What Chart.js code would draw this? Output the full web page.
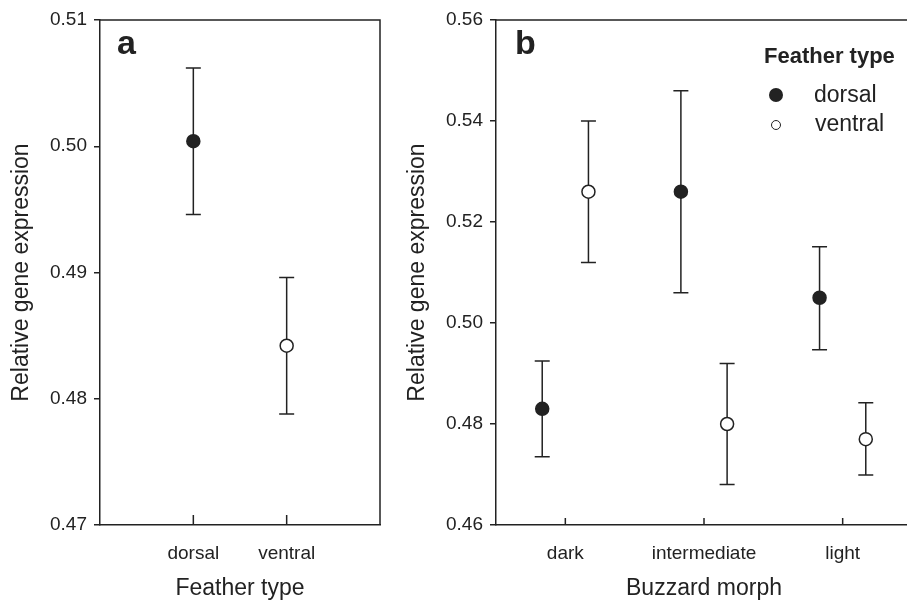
<!DOCTYPE html>
<html>
<head>
<meta charset="utf-8">
<script src="https://cdn.jsdelivr.net/npm/chart.js@4"></script>
<style>
body{margin:0;width:907px;height:600px;overflow:hidden;background:#fff;position:relative;font-family:"Liberation Sans",Arial,sans-serif;color:#222;}
#wrapA{position:absolute;left:0;top:0;}
#wrapB{position:absolute;left:400px;top:0;}
.txt{position:absolute;white-space:nowrap;}
.panel{font-size:34px;line-height:34px;font-weight:bold;}
.dot{position:absolute;border-radius:50%;box-sizing:border-box;}
</style>
</head>
<body>
<div id="wrapA"><canvas id="chartA" width="400" height="600"></canvas></div>
<div id="wrapB"><canvas id="chartB" width="520" height="600"></canvas></div>

<div class="txt panel" style="left:117px;top:25px;">a</div>
<div class="txt panel" style="left:515px;top:25px;">b</div>

<div class="txt" style="left:764px;top:45px;font-size:22px;line-height:22px;font-weight:bold;">Feather type</div>
<div class="dot" style="left:769px;top:88px;width:14px;height:14px;background:#222;"></div>
<div class="txt" style="left:814px;top:83px;font-size:23px;line-height:23px;">dorsal</div>
<div class="dot" style="left:771px;top:120px;width:10px;height:10px;background:#fff;border:1.5px solid #222;"></div>
<div class="txt" style="left:815px;top:112px;font-size:23px;line-height:23px;">ventral</div>

<script>
// panel a: by feather type
const typeLabels = ["dorsal", "ventral"];
const typeMeans = [0.5004, 0.4842];
const typeLower = [0.4946, 0.4788];
const typeUpper = [0.5062, 0.4896];

// panel b: by buzzard morph
const morphLabels = ["dark", "intermediate", "light"];
const dorsalMeans = [0.4830, 0.5260, 0.5050];
const dorsalLower = [0.4735, 0.5060, 0.4947];
const dorsalUpper = [0.4925, 0.5460, 0.5151];
const ventralMeans = [0.5260, 0.4800, 0.4770];
const ventralLower = [0.5120, 0.4680, 0.4699];
const ventralUpper = [0.5400, 0.4920, 0.4842];

const ink = "#222";
const font = "'Liberation Sans', Arial, sans-serif";

// vertical error bars behind the points
const errorBars = {
    id: "errorBars",
    beforeDatasetsDraw(chart){
        const ctx = chart.ctx;
        const y = chart.scales.y;
        ctx.save();
        ctx.strokeStyle = ink;
        ctx.lineWidth = 1.5;
        chart.data.datasets.forEach((ds, d) => {
            chart.getDatasetMeta(d).data.forEach((pt, i) => {
                const top = y.getPixelForValue(ds.upper[i]);
                const bot = y.getPixelForValue(ds.lower[i]);
                ctx.beginPath();
                ctx.moveTo(pt.x, top); ctx.lineTo(pt.x, bot);
                ctx.moveTo(pt.x - 7.5, top); ctx.lineTo(pt.x + 7.5, top);
                ctx.moveTo(pt.x - 7.5, bot); ctx.lineTo(pt.x + 7.5, bot);
                ctx.stroke();
            });
        });
        ctx.restore();
    }
};

// top/right frame lines and inward x ticks
const frame = {
    id: "frame",
    afterDraw(chart, args, opts){
        const ctx = chart.ctx;
        const a = chart.chartArea;
        const x = chart.scales.x;
        ctx.save();
        ctx.strokeStyle = ink;
        ctx.lineWidth = 1.5;
        ctx.beginPath();
        ctx.moveTo(a.left, a.top); ctx.lineTo(a.right, a.top); ctx.lineTo(a.right, a.bottom);
        for(const t of x.ticks){
            const px = x.getPixelForValue(t.value);
            ctx.moveTo(px, a.bottom); ctx.lineTo(px, a.bottom - opts.tick);
        }
        ctx.stroke();
        ctx.restore();
    }
};

function points(means, shift){
    return means.map((v, i) => ({x: i + 1 + shift, y: v}));
}

function makeOptions(labels, xMin, xMax, yMin, yMax, step, yWidth, titleX, titleY, titlePad, padRight, tick){
    return {
        responsive: false,
        animation: false,
        layout: {padding: {top: 20, right: padRight, left: 0, bottom: 0}},
        plugins: {legend: {display: false}, tooltip: {enabled: false}, frame: {tick: tick}},
        scales: {
            x: {
                type: "linear", min: xMin, max: xMax,
                afterBuildTicks: s => { s.ticks = labels.map((l, i) => ({value: i + 1})); },
                afterFit: s => { s.height = 75; },
                ticks: {callback: v => labels[v - 1], padding: 9, color: ink, font: {family: font, size: 19}, maxRotation: 0},
                grid: {display: false},
                border: {display: true, color: ink, width: 1.5},
                title: {display: true, text: titleX, color: ink, font: {family: font, size: 23, lineHeight: 1}, padding: {top: 0, bottom: 0}}
            },
            y: {
                min: yMin, max: yMax,
                afterFit: s => { s.width = yWidth; },
                ticks: {stepSize: step, callback: v => v.toFixed(2), padding: 7, color: ink, font: {family: font, size: 19}},
                grid: {drawOnChartArea: false, drawTicks: true, tickLength: 6, color: ink, lineWidth: 1.5},
                border: {display: true, color: ink, width: 1.5},
                title: {display: true, text: titleY, color: ink, font: {family: font, size: 23, lineHeight: 1}, padding: {top: titlePad, bottom: 0}}
            }
        }
    };
}

new Chart(document.getElementById("chartA").getContext("2d"), {
    type: "scatter",
    data: {
        datasets: [{
            label: "Feather type",
            data: points(typeMeans, 0),
            lower: typeLower,
            upper: typeUpper,
            pointRadius: 6.5,
            pointBorderWidth: 1.5,
            pointBorderColor: ink,
            pointBackgroundColor: [ink, "#fff"]
        }]
    },
    options: makeOptions(typeLabels, 0, 3, 0.47, 0.51, 0.01, 100, "Feather type", "Relative gene expression", 10.5, 20, 10),
    plugins: [errorBars, frame]
});

const shift = 1 / 6;
new Chart(document.getElementById("chartB").getContext("2d"), {
    type: "scatter",
    data: {
        datasets: [{
            label: "dorsal",
            data: points(dorsalMeans, -shift),
            lower: dorsalLower,
            upper: dorsalUpper,
            pointRadius: 6.5,
            pointBorderWidth: 1.5,
            pointBorderColor: ink,
            pointBackgroundColor: ink
        }, {
            label: "ventral",
            data: points(ventralMeans, shift),
            lower: ventralLower,
            upper: ventralUpper,
            pointRadius: 6.5,
            pointBorderWidth: 1.5,
            pointBorderColor: ink,
            pointBackgroundColor: "#fff"
        }]
    },
    options: makeOptions(morphLabels, 0.5, 3.5, 0.46, 0.56, 0.02, 96, "Buzzard morph", "Relative gene expression", 6.5, 4, 7),
    plugins: [errorBars, frame]
});
</script>
</body>
</html>
